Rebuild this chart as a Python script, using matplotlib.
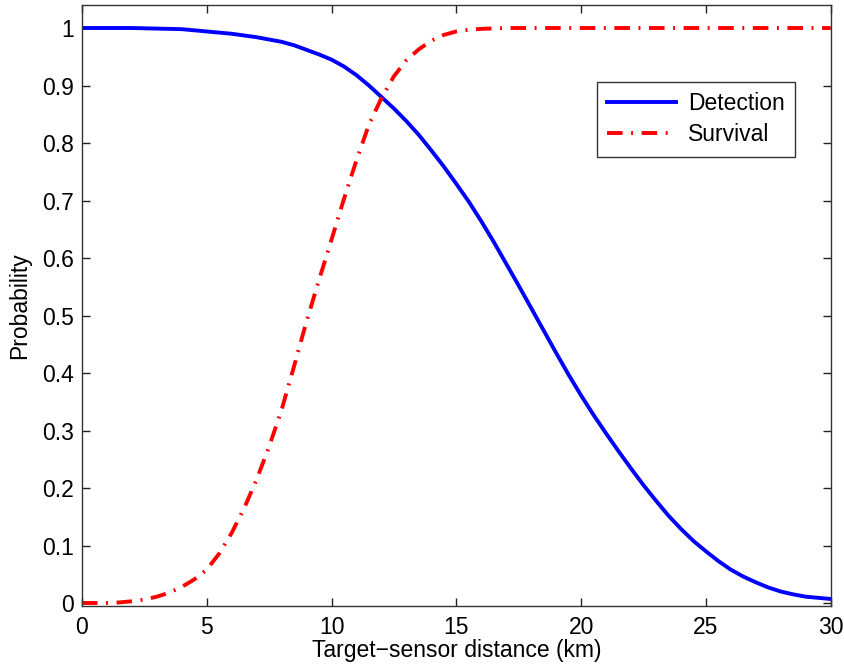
import matplotlib.pyplot as plt

distance = [i * 0.5 for i in range(61)]
detection = [1.000, 1.000, 1.000, 1.000, 1.000, 0.9995, 0.999, 0.9985, 0.998, 0.996,
             0.994, 0.992, 0.990, 0.987, 0.984, 0.980, 0.976, 0.970, 0.962, 0.954,
             0.945, 0.933, 0.918, 0.900, 0.880, 0.860, 0.838, 0.814, 0.787, 0.759,
             0.729, 0.698, 0.664, 0.628, 0.590, 0.552, 0.513, 0.474, 0.435, 0.397,
             0.361, 0.327, 0.295, 0.264, 0.234, 0.205, 0.178, 0.152, 0.129, 0.108,
             0.090, 0.073, 0.058, 0.046, 0.036, 0.027, 0.020, 0.015, 0.011, 0.009,
             0.007]
survival = [0.000, 0.000, 0.000, 0.001, 0.003, 0.006, 0.011, 0.018, 0.028, 0.041,
            0.058, 0.086, 0.122, 0.165, 0.215, 0.272, 0.336, 0.412, 0.490, 0.562,
            0.632, 0.703, 0.770, 0.832, 0.878, 0.916, 0.944, 0.963, 0.978, 0.988,
            0.994, 0.997, 0.9985, 0.9993, 1.000, 1.000, 1.000, 1.000, 1.000, 1.000,
            1.000, 1.000, 1.000, 1.000, 1.000, 1.000, 1.000, 1.000, 1.000, 1.000,
            1.000, 1.000, 1.000, 1.000, 1.000, 1.000, 1.000, 1.000, 1.000, 1.000,
            1.000]
yticks = [0, 0.1, 0.2, 0.3, 0.4, 0.5, 0.6, 0.7, 0.8, 0.9, 1]
yticklabels = ['0', '0.1', '0.2', '0.3', '0.4', '0.5', '0.6', '0.7', '0.8', '0.9', '1']
xticks = [0, 5, 10, 15, 20, 25, 30]

plt.rcParams['font.family'] = ['Liberation Sans', 'DejaVu Sans']

fig = plt.figure(figsize=(8.45, 6.68), dpi=100)
ax = fig.add_axes([0.097, 0.093, 0.886, 0.8995])

ax.plot(distance, detection, color='#0000ff', linewidth=2.8, label='Detection')
ax.plot(distance, survival, color='#ff0000', linewidth=2.8,
        linestyle=(0, (4, 2.2, 0.5, 2.2)), label='Survival')

ax.set_xlim(0, 30)
ax.set_ylim(-0.005, 1.04)
ax.set_xticks(xticks)
ax.set_xticklabels([str(t) for t in xticks])
ax.set_yticks(yticks)
ax.set_yticklabels(yticklabels)
ax.tick_params(direction='in', length=6, width=1, labelsize=16.5, colors='#222222',
               top=True, right=True, pad=6)
ax.tick_params(axis='x', pad=7)
ax.tick_params(labelcolor='black')
for s in ax.spines.values():
    s.set_color('#333333')
    s.set_linewidth(1)

ax.set_xlabel('Target\u2212sensor distance (km)', fontsize=16.5, labelpad=0)
ax.set_ylabel('Probability', fontsize=16.5, labelpad=8)

leg = ax.legend(loc='upper right', bbox_to_anchor=(0.952, 0.872), fontsize=16.5,
                fancybox=False, framealpha=1, edgecolor='#333333',
                handlelength=3.0, handletextpad=0.5, borderpad=0.45,
                labelspacing=0.35, borderaxespad=0)
leg.get_frame().set_linewidth(1)

fig.savefig('out.png', dpi=100)
